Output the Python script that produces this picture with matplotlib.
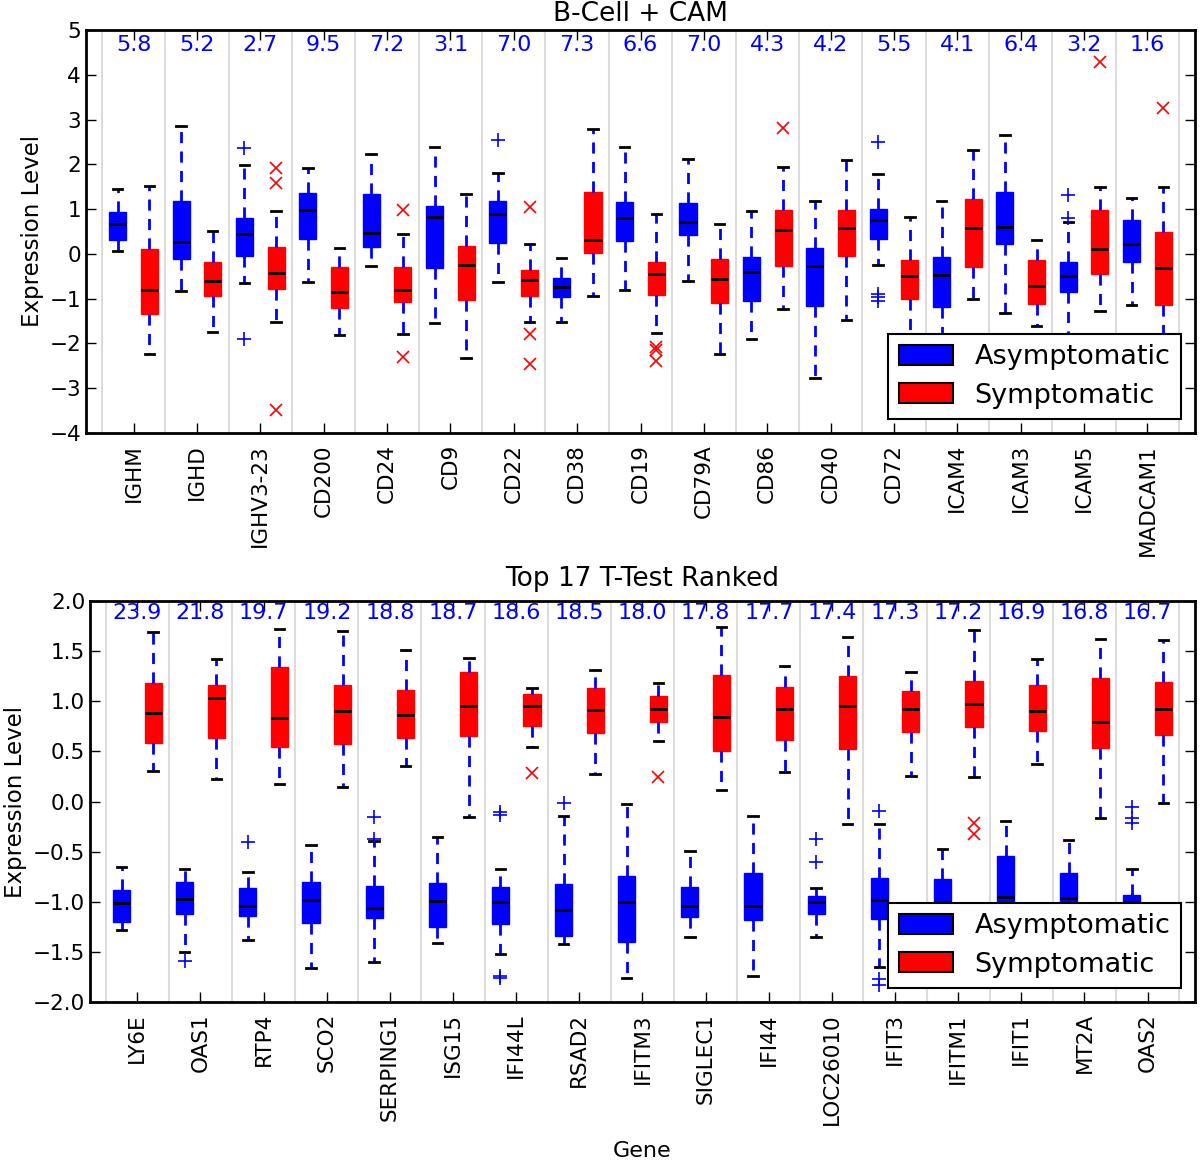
import matplotlib
matplotlib.use("Agg")
import matplotlib.pyplot as plt
from matplotlib.patches import Patch

# ---------------- Top panel data: B-Cell + CAM ----------------
genes_top = ["IGHM", "IGHD", "IGHV3-23", "CD200", "CD24", "CD9", "CD22", "CD38",
             "CD19", "CD79A", "CD86", "CD40", "CD72", "ICAM4", "ICAM3", "ICAM5", "MADCAM1"]
scores_top = ["5.8", "5.2", "2.7", "9.5", "7.2", "3.1", "7.0", "7.3",
              "6.6", "7.0", "4.3", "4.2", "5.5", "4.1", "6.4", "3.2", "1.6"]
# asymptomatic (blue): whisker low, q1, median, q3, whisker high
top_asym_wlo = [0.06, -0.82, -0.65, -0.62, -0.28, -1.55, -0.62, -1.52,
                -0.81, -0.61, -1.91, -2.77, -0.25, -1.95, -1.33, -1.90, -1.15]
top_asym_q1 = [0.32, -0.12, -0.04, 0.34, 0.16, -0.31, 0.25, -0.96,
               0.28, 0.42, -1.06, -1.17, 0.33, -1.18, 0.22, -0.84, -0.19]
top_asym_med = [0.66, 0.26, 0.45, 0.99, 0.47, 0.83, 0.88, -0.74,
                0.80, 0.72, -0.41, -0.28, 0.75, -0.48, 0.59, -0.50, 0.23]
top_asym_q3 = [0.94, 1.19, 0.81, 1.36, 1.33, 1.08, 1.17, -0.54,
               1.16, 1.14, -0.07, 0.13, 1.00, -0.06, 1.39, -0.17, 0.76]
top_asym_whi = [1.44, 2.86, 1.99, 1.92, 2.24, 2.39, 1.81, -0.09,
                2.39, 2.12, 0.96, 1.18, 1.78, 1.18, 2.66, 0.71, 1.24]
top_asym_fliers = [[], [], [2.37, -1.89], [], [], [], [2.55], [],
                   [], [], [], [], [2.49, -0.89, -0.97, -1.05], [], [], [1.32, 0.80], []]
# symptomatic (red)
top_sym_wlo = [-2.24, -1.75, -1.52, -1.82, -1.78, -2.33, -1.51, -0.94,
               -1.77, -2.23, -1.23, -1.48, -2.00, -1.01, -1.62, -1.28, -2.10]
top_sym_q1 = [-1.34, -0.94, -0.78, -1.21, -1.08, -1.03, -0.94, 0.01,
              -0.92, -1.09, -0.27, -0.05, -1.01, -0.29, -1.11, -0.46, -1.15]
top_sym_med = [-0.80, -0.61, -0.42, -0.84, -0.81, -0.25, -0.59, 0.32,
               -0.46, -0.56, 0.53, 0.58, -0.50, 0.57, -0.72, 0.12, -0.32]
top_sym_q3 = [0.10, -0.19, 0.16, -0.30, -0.30, 0.17, -0.37, 1.39,
              -0.19, -0.12, 0.97, 0.98, -0.13, 1.23, -0.13, 0.97, 0.49]
top_sym_whi = [1.52, 0.51, 0.95, 0.13, 0.44, 1.34, 0.21, 2.79,
               0.88, 0.67, 1.93, 2.10, 0.82, 2.32, 0.30, 1.49, 1.50]
top_sym_fliers = [[], [], [1.91, 1.58, -3.48], [], [0.97, -2.30], [], [1.05, -1.79, -2.47], [],
                  [-2.08, -2.15, -2.39], [], [2.82], [], [], [], [], [4.29], [3.25]]

# ---------------- Bottom panel data: Top 17 T-Test Ranked ----------------
genes_bot = ["LY6E", "OAS1", "RTP4", "SCO2", "SERPING1", "ISG15", "IFI44L", "RSAD2",
             "IFITM3", "SIGLEC1", "IFI44", "LOC26010", "IFIT3", "IFITM1", "IFIT1", "MT2A", "OAS2"]
scores_bot = ["23.9", "21.8", "19.7", "19.2", "18.8", "18.7", "18.6", "18.5",
              "18.0", "17.8", "17.7", "17.4", "17.3", "17.2", "16.9", "16.8", "16.7"]
bot_asym_wlo = [-1.28, -1.50, -1.38, -1.66, -1.60, -1.41, -1.52, -1.42,
                -1.76, -1.35, -1.74, -1.35, -1.65, -1.50, -1.60, -1.45, -1.35]
bot_asym_q1 = [-1.20, -1.12, -1.14, -1.21, -1.16, -1.25, -1.22, -1.34,
               -1.40, -1.15, -1.18, -1.12, -1.17, -1.20, -1.25, -1.15, -1.15]
bot_asym_med = [-1.01, -0.97, -1.04, -0.98, -1.06, -0.99, -1.00, -1.08,
                -1.00, -1.04, -1.04, -1.00, -0.98, -1.00, -0.95, -0.96, -1.00]
bot_asym_q3 = [-0.88, -0.80, -0.86, -0.80, -0.84, -0.81, -0.85, -0.82,
               -0.74, -0.85, -0.71, -0.94, -0.76, -0.77, -0.54, -0.71, -0.93]
bot_asym_whi = [-0.65, -0.67, -0.70, -0.43, -0.39, -0.35, -0.67, -0.14,
                -0.02, -0.49, -0.14, -0.86, -0.22, -0.47, -0.19, -0.38, -0.67]
bot_asym_fliers = [[], [-1.59], [-0.40], [], [-0.15, -0.37], [], [-0.10, -0.13, -1.74, -1.76], [-0.01],
                   [], [], [], [-0.37, -0.60], [-0.09, -1.77, -1.83], [], [], [], [-0.05, -0.16, -0.21]]
bot_sym_wlo = [0.30, 0.22, 0.17, 0.14, 0.35, -0.15, 0.54, 0.27,
               0.60, 0.11, 0.29, -0.22, 0.25, 0.24, 0.37, -0.16, -0.01]
bot_sym_q1 = [0.58, 0.63, 0.54, 0.57, 0.63, 0.65, 0.75, 0.68,
              0.79, 0.50, 0.61, 0.52, 0.69, 0.74, 0.70, 0.53, 0.66]
bot_sym_med = [0.88, 1.03, 0.83, 0.90, 0.86, 0.95, 0.95, 0.91,
               0.92, 0.84, 0.92, 0.95, 0.92, 0.97, 0.90, 0.79, 0.92]
bot_sym_q3 = [1.18, 1.16, 1.34, 1.16, 1.11, 1.29, 1.07, 1.13,
              1.05, 1.26, 1.14, 1.25, 1.10, 1.20, 1.16, 1.23, 1.19]
bot_sym_whi = [1.69, 1.42, 1.72, 1.70, 1.51, 1.43, 1.13, 1.31,
               1.18, 1.74, 1.35, 1.64, 1.29, 1.71, 1.42, 1.62, 1.61]
bot_sym_fliers = [[], [], [], [], [], [], [0.28], [],
                  [0.24], [], [], [], [], [-0.21, -0.32], [], [], []]

BLUE = "#0000ff"
RED = "#ff0000"
FS_TICK = 15.5


def make_stats(wlo, q1, med, q3, whi, fliers):
    return [dict(whislo=a, q1=b, med=c, q3=d, whishi=e, fliers=f)
            for a, b, c, d, e, f in zip(wlo, q1, med, q3, whi, fliers)]


def draw_panel(ax, genes, scores, asym, sym, ylim, yticks, ytext, title, title_pad):
    n = len(genes)
    for k in range(n + 1):
        ax.axvline(k - 0.5, color="#dcdcdc", lw=1.5, zorder=0)
    for stats, color, offset, fl in ((asym, BLUE, -0.25, dict(marker="+", markeredgecolor=BLUE, markersize=10, linestyle="none", markeredgewidth=1.2)),
                                      (sym, RED, 0.25, dict(marker="x", markeredgecolor=RED, markersize=9, linestyle="none", markeredgewidth=1.2))):
        pos = [i + offset for i in range(n)]
        ax.bxp(stats, positions=pos, widths=0.27, capwidths=0.15, patch_artist=True,
               showfliers=True, manage_ticks=False,
               boxprops=dict(facecolor=color, edgecolor=color, linewidth=1),
               whiskerprops=dict(color=BLUE, linewidth=2, linestyle=(0, (4, 3))),
               capprops=dict(color="black", linewidth=2),
               medianprops=dict(color="black", linewidth=2),
               flierprops=fl)
    for i, s in enumerate(scores):
        ax.text(i, ytext, s, color=BLUE, fontsize=16, ha="center", va="center")
    ax.set_xlim(-0.75, n - 0.25)
    ax.set_ylim(*ylim)
    ax.set_yticks(yticks)
    ax.set_xticks(range(n))
    ax.set_xticklabels(genes, rotation=90, fontsize=FS_TICK)
    ax.tick_params(axis="both", direction="in", top=True, right=True, length=7, width=1, labelsize=FS_TICK)
    ax.tick_params(axis="x", pad=8)
    for sp in ax.spines.values():
        sp.set_linewidth(2)
    ax.set_ylabel("Expression Level", fontsize=16.5)
    ax.set_title(title, fontsize=19, pad=title_pad)
    handles = [Patch(facecolor=BLUE, edgecolor="black", linewidth=1.5),
               Patch(facecolor=RED, edgecolor="black", linewidth=1.5)]
    leg = ax.legend(handles, ["Asymptomatic", "Symptomatic"], loc="lower right", fontsize=19.5,
                    fancybox=False, framealpha=1, edgecolor="black", borderaxespad=0.5,
                    labelspacing=0.45, handleheight=0.75)
    leg.get_frame().set_linewidth(1.5)


fig = plt.figure(figsize=(12, 11.61), dpi=100)
ax1 = fig.add_axes([86 / 1200, 1 - 433 / 1161, 1109 / 1200, 403 / 1161])
ax2 = fig.add_axes([90 / 1200, 1 - 1002 / 1161, 1105 / 1200, 401 / 1161])

draw_panel(ax1, genes_top, scores_top,
           make_stats(top_asym_wlo, top_asym_q1, top_asym_med, top_asym_q3, top_asym_whi, top_asym_fliers),
           make_stats(top_sym_wlo, top_sym_q1, top_sym_med, top_sym_q3, top_sym_whi, top_sym_fliers),
           (-4, 5), range(-4, 6), 4.67, "B-Cell + CAM", 6.5)
draw_panel(ax2, genes_bot, scores_bot,
           make_stats(bot_asym_wlo, bot_asym_q1, bot_asym_med, bot_asym_q3, bot_asym_whi, bot_asym_fliers),
           make_stats(bot_sym_wlo, bot_sym_q1, bot_sym_med, bot_sym_q3, bot_sym_whi, bot_sym_fliers),
           (-2, 2), [-2.0, -1.5, -1.0, -0.5, 0.0, 0.5, 1.0, 1.5, 2.0], 1.88, "Top 17 T-Test Ranked", 11)
ax2.set_yticklabels(["\u22122.0", "\u22121.5", "\u22121.0", "\u22120.5", "0.0", "0.5", "1.0", "1.5", "2.0"])
ax2.set_xlabel("Gene", fontsize=16, labelpad=12)

fig.savefig("out.png", dpi=100)
